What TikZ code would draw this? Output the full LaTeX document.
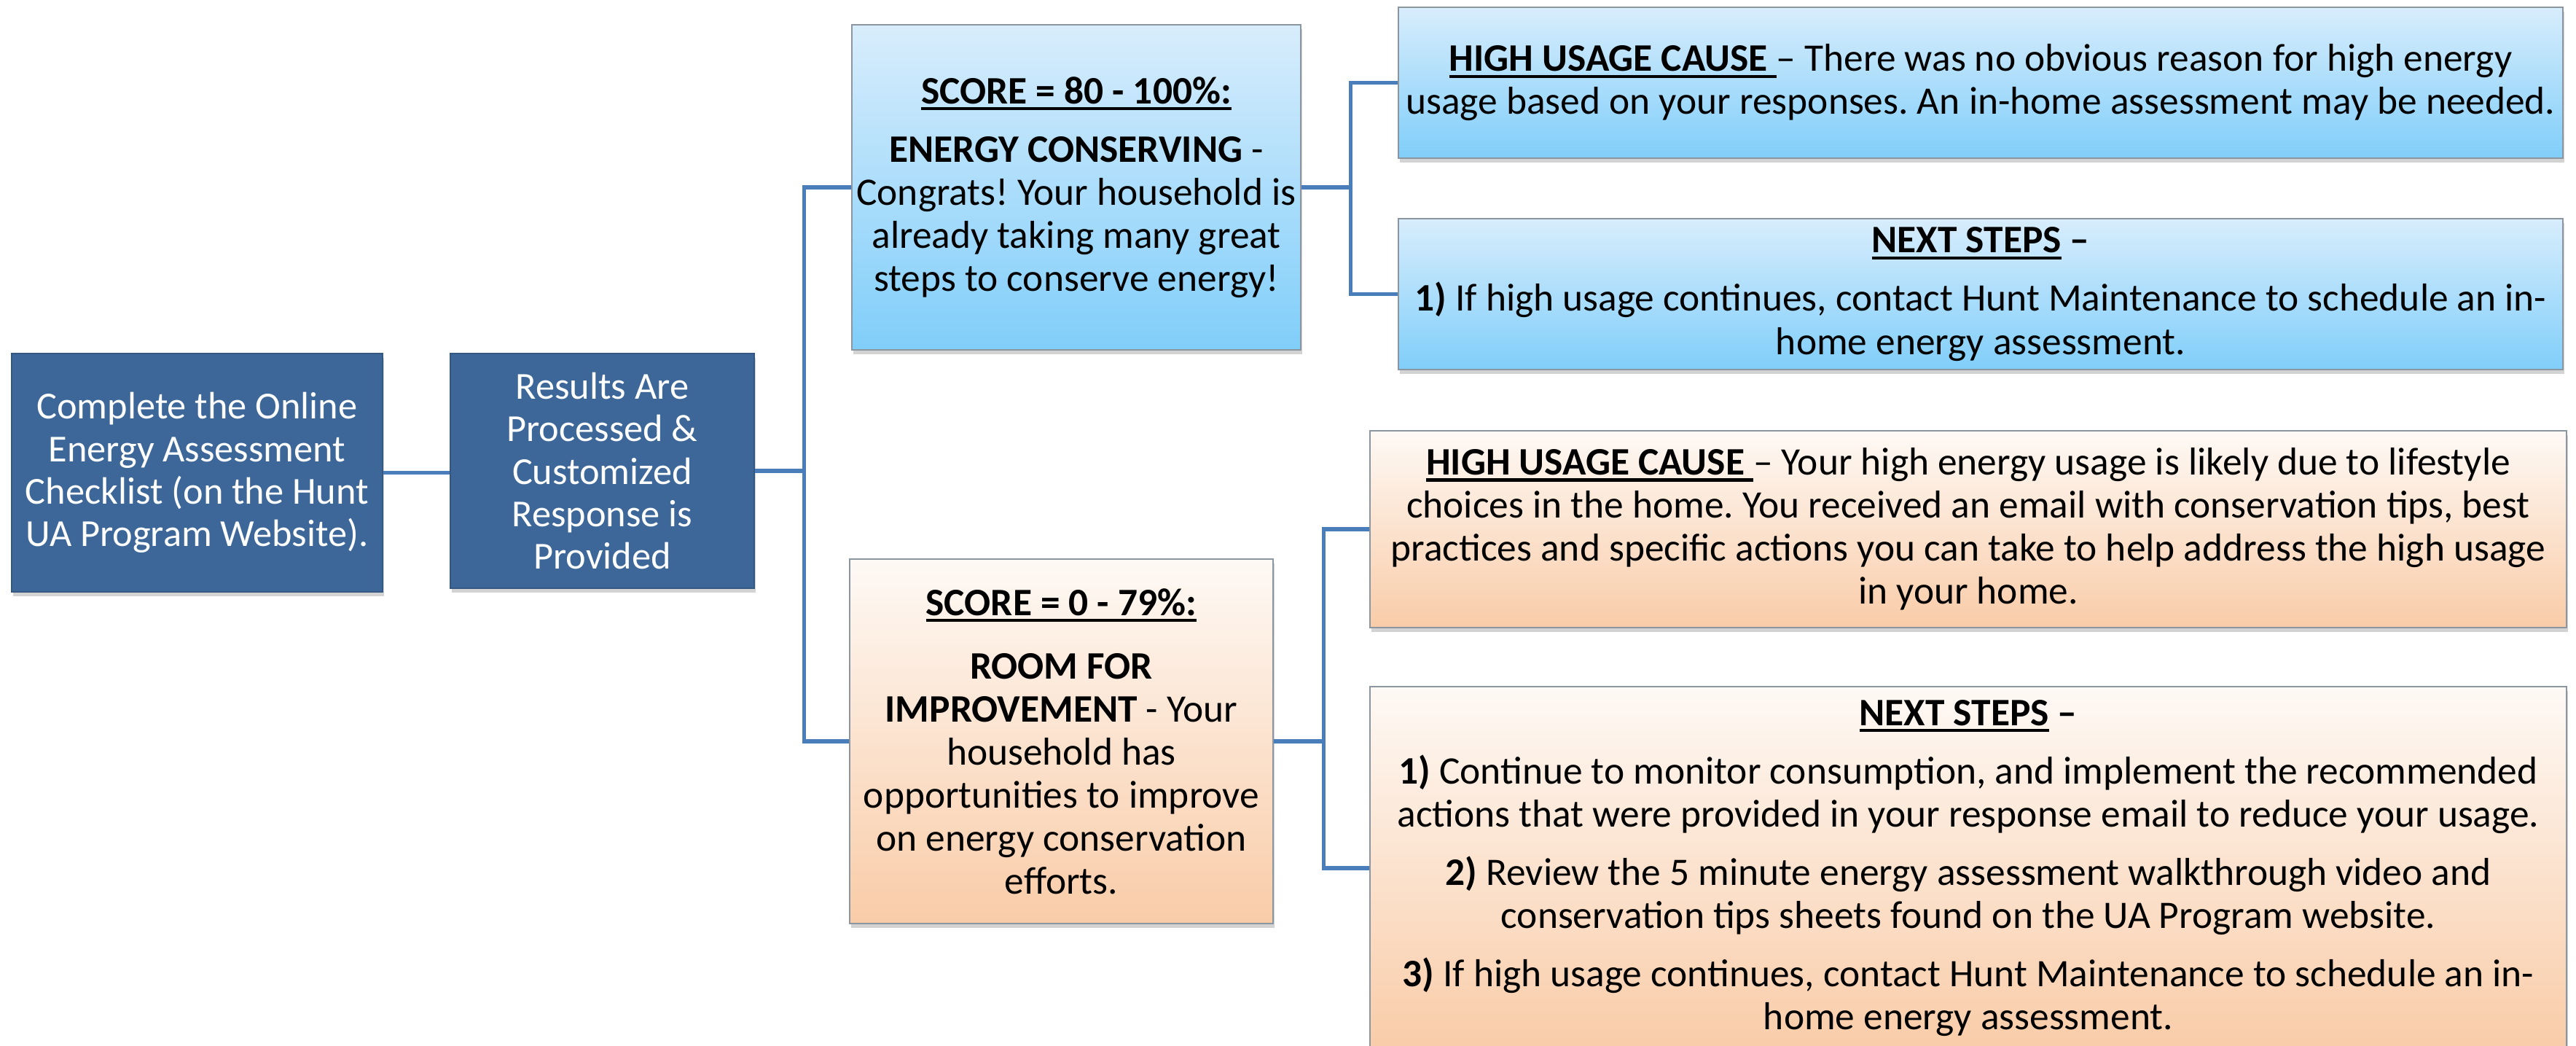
\documentclass[tikz,border=0pt]{standalone}
\usepackage{fontspec}
\setmainfont{Carlito}
\usetikzlibrary{shadows}

\definecolor{navy}{RGB}{61,103,153}
\definecolor{linkblue}{RGB}{74,126,187}
\definecolor{skytop}{RGB}{216,237,252}
\definecolor{skybot}{RGB}{128,206,250}
\definecolor{peachtop}{RGB}{254,249,245}
\definecolor{peachbot}{RGB}{249,204,168}
\definecolor{rim}{RGB}{140,150,160}

\newcommand{\ulbox}[1]{\setbox0\hbox{#1}\rlap{\rule[-0.17em]{\wd0}{0.08em}}\box0\relax}
\frenchspacing

\tikzset{
    every node/.style={font=\fontsize{15.2}{16.8}\selectfont},
    card/.style={align=center, inner sep=0pt, line width=0.6pt,
        drop shadow={shadow xshift=0.02cm, shadow yshift=-0.06cm, opacity=0.35}},
    darkbox/.style={card, fill=navy, draw=navy!85!black, text=white,
        font=\fontsize{14.9}{16.6}\selectfont},
    bluebox/.style={card, top color=skytop, bottom color=skybot, draw=rim},
    peachbox/.style={card, top color=peachtop, bottom color=peachbot, draw=rim},
    link/.style={draw=linkblue, line width=1.45pt}
}

\begin{document}
\begin{tikzpicture}
        \useasboundingbox (0,0) rectangle (35.35,-14.35);

        \node[darkbox, minimum width=5.09cm, minimum height=3.27cm] (check) at (2.705,-6.485)
            {Complete the Online\\ Energy Assessment\\ Checklist (on the Hunt\\ UA Program Website).};
        \node[darkbox, minimum width=4.17cm, minimum height=3.22cm] (proc) at (8.265,-6.46)
            {Results Are\\ Processed \&\\ Customized\\ Response is\\ Provided};

        \node[bluebox, minimum width=6.16cm, minimum height=4.46cm] (high) at (14.77,-2.57)
            {{\bfseries\ulbox{SCORE = 80 - 100\%:}}\\[6pt]
             \textbf{ENERGY CONSERVING} -\\ Congrats! Your household is\\ already taking many great\\ steps to conserve energy!};
        \node[peachbox, minimum width=5.81cm, minimum height=5.0cm] (low) at (14.565,-10.17)
            {{\bfseries\ulbox{SCORE = 0 - 79\%:}}\\[8pt]
             \textbf{ROOM FOR}\\ \textbf{IMPROVEMENT} - Your\\ household has\\ opportunities to improve\\ on energy conservation\\ efforts.};

        \node[bluebox, minimum width=15.98cm, minimum height=2.07cm] (cause1) at (27.18,-1.135)
            {{\bfseries\ulbox{HIGH USAGE CAUSE }}– There was no obvious reason for high energy\\
             usage based on your responses. An in-home assessment may be needed.};
        \node[bluebox, minimum width=15.98cm, minimum height=2.07cm] (next1) at (27.18,-4.035)
            {{\bfseries\ulbox{NEXT STEPS} –}\\[6pt]
             \textbf{1)} If high usage continues, contact Hunt Maintenance to schedule an in-\\ home energy assessment.};

        \node[peachbox, minimum width=16.42cm, minimum height=2.70cm] (cause2) at (27.01,-7.26)
            {{\bfseries\ulbox{HIGH USAGE CAUSE }}– Your high energy usage is likely due to lifestyle\\
             choices in the home. You received an email with conservation tips, best\\
             practices and specific actions you can take to help address the high usage\\
             in your home.};
        \node[peachbox, minimum width=16.42cm, minimum height=4.98cm] (next2) at (27.01,-11.91)
            {{\bfseries\ulbox{NEXT STEPS} –}\\[6pt]
             \textbf{1)} Continue to monitor consumption, and implement the recommended\\
             actions that were provided in your response email to reduce your usage.\\[6pt]
             \textbf{2)} Review the 5 minute energy assessment walkthrough video and\\
             conservation tips sheets found on the UA Program website.\\[6pt]
             \textbf{3)} If high usage continues, contact Hunt Maintenance to schedule an in-\\
             home energy assessment.};

        \draw[link] (check.east) -- (check.east -| proc.west);
        \draw[link] (proc.east) -- ++(0.67,0) coordinate (j1);
        \draw[link] (high.west) -| (j1) |- (low.west);

        \draw[link] (high.east) -- ++(0.67,0) coordinate (j2);
        \draw[link] (cause1.west) -| (j2) |- (next1.west);

        \draw[link] (low.east) -- ++(0.68,0) coordinate (j3);
        \draw[link] (cause2.west) -| (j3) |- (next2.west);
    \end{tikzpicture}
\end{document}
